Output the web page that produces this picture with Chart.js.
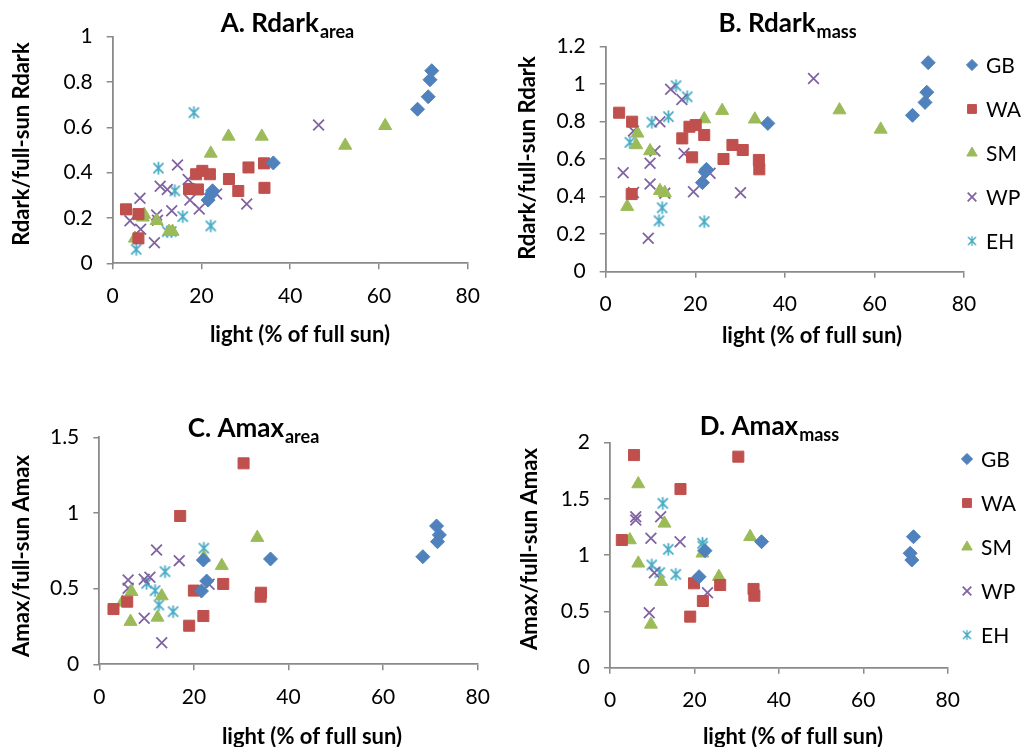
<!DOCTYPE html>
<html>
<head>
<meta charset="utf-8">
<script src="https://cdn.jsdelivr.net/npm/chart.js@4.4.1/dist/chart.umd.min.js"></script>
<style>
  html, body { margin: 0; padding: 0; background: #fff; }
  #wrap { position: relative; width: 1022px; height: 747px; overflow: hidden; }
  #wrap canvas { position: absolute; left: 0; top: 0; }
</style>
</head>
<body>
<div id="wrap">
  <canvas id="cA" width="1022" height="747"></canvas>
  <canvas id="cB" width="1022" height="747"></canvas>
  <canvas id="cC" width="1022" height="747"></canvas>
  <canvas id="cD" width="1022" height="747"></canvas>
</div>
<script>
// ---- sites and axis tick labels ----
const sites = ['GB', 'WA', 'SM', 'WP', 'EH'];

const lightTicks = [0, 20, 40, 60, 80];
const rdarkAreaTicks = [0, 0.2, 0.4, 0.6, 0.8, 1];
const rdarkMassTicks = [0, 0.2, 0.4, 0.6, 0.8, 1, 1.2];
const amaxAreaTicks = [0, 0.5, 1, 1.5];
const amaxMassTicks = [0, 0.5, 1, 1.5, 2];

// ---- A. Rdark (area basis): [light %, ratio to full-sun] ----
const rdarkAreaGB = [[71.9,0.85],[71.5,0.81],[71.1,0.735],[68.7,0.68],[36.2,0.443],[22.5,0.32],[22.2,0.305],[21.5,0.279]];
const rdarkAreaWA = [[3.0,0.238],[5.8,0.217],[5.8,0.11],[17.2,0.328],[19.2,0.326],[18.8,0.393],[20.2,0.408],[21.9,0.393],[26.2,0.372],[28.3,0.319],[30.6,0.423],[34.1,0.441],[34.2,0.333]];
const rdarkAreaSM = [[5.0,0.11],[6.8,0.203],[7.1,0.215],[9.9,0.188],[12.7,0.14],[13.5,0.14],[22.1,0.485],[26.1,0.56],[33.6,0.56],[52.4,0.52],[61.4,0.607]];
const rdarkAreaWP = [[6.15,0.287],[3.9,0.188],[6.3,0.15],[9.9,0.213],[10.1,0.19],[9.4,0.091],[10.7,0.34],[12.3,0.326],[13.3,0.232],[14.6,0.434],[17.0,0.37],[17.4,0.279],[19.5,0.24],[23.4,0.306],[30.2,0.262],[46.4,0.61]];
const rdarkAreaEH = [[5.3,0.062],[10.3,0.42],[12.3,0.14],[13.2,0.14],[14.0,0.32],[15.8,0.206],[18.3,0.665],[22.1,0.165]];

// ---- B. Rdark (mass basis) ----
const rdarkMassGB = [[72.0,1.115],[71.7,0.957],[71.3,0.903],[68.5,0.834],[36.2,0.791],[22.5,0.546],[22.2,0.533],[21.6,0.475]];
const rdarkMassWA = [[3.0,0.848],[5.9,0.80],[5.8,0.414],[17.1,0.711],[18.7,0.773],[20.1,0.782],[19.3,0.61],[22.0,0.729],[26.3,0.601],[28.3,0.676],[30.6,0.649],[34.2,0.596],[34.3,0.546]];
const rdarkMassSM = [[4.8,0.347],[7.1,0.738],[6.8,0.676],[9.9,0.644],[12.1,0.432],[13.2,0.421],[22.0,0.814],[26.0,0.859],[33.3,0.813],[52.2,0.862],[61.4,0.759]];
const rdarkMassWP = [[14.5,0.973],[17.0,0.919],[6.2,0.75],[12.1,0.80],[11.0,0.644],[9.9,0.578],[3.9,0.528],[9.9,0.468],[6.2,0.423],[13.2,0.418],[9.5,0.178],[17.5,0.631],[19.6,0.427],[23.3,0.525],[30.1,0.421],[46.4,1.031]];
const rdarkMassEH = [[15.7,0.992],[18.2,0.933],[10.3,0.797],[14.0,0.827],[5.4,0.69],[12.6,0.341],[11.9,0.272],[22.0,0.267]];

// ---- C. Amax (area basis) ----
const amaxAreaGB = [[68.4,0.711],[71.3,0.914],[71.9,0.855],[71.5,0.81],[36.2,0.696],[22.0,0.689],[22.7,0.55],[21.6,0.484]];
const amaxAreaWA = [[3.0,0.365],[5.9,0.414],[17.1,0.98],[19.0,0.255],[20.0,0.487],[22.0,0.319],[26.2,0.531],[30.5,1.328],[34.2,0.473],[34.1,0.447]];
const amaxAreaSM = [[4.9,0.41],[6.8,0.48],[6.6,0.282],[12.3,0.31],[13.2,0.451],[22.1,0.705],[25.9,0.652],[33.4,0.837]];
const amaxAreaWP = [[12.1,0.755],[16.9,0.685],[6.1,0.557],[6.1,0.502],[9.5,0.562],[10.7,0.575],[9.5,0.304],[13.2,0.143],[23.2,0.529]];
const amaxAreaEH = [[22.1,0.767],[13.9,0.612],[10.0,0.535],[11.8,0.487],[12.6,0.392],[15.6,0.348]];

// ---- D. Amax (mass basis) ----
const amaxMassGB = [[71.9,1.164],[71.1,1.017],[71.5,0.957],[35.9,1.12],[22.5,1.04],[21.1,0.809]];
const amaxMassWA = [[5.7,1.89],[30.4,1.876],[16.7,1.588],[2.8,1.135],[19.9,0.75],[26.1,0.735],[22.0,0.593],[19.0,0.454],[34.0,0.70],[34.2,0.64]];
const amaxMassSM = [[6.7,1.633],[4.7,1.135],[12.9,1.283],[6.7,0.928],[12.1,0.765],[9.7,0.385],[21.9,1.017],[25.8,0.809],[33.2,1.164]];
const amaxMassWP = [[6.1,1.342],[6.1,1.313],[12.0,1.342],[9.7,1.15],[16.6,1.12],[10.5,0.845],[9.3,0.489],[23.1,0.667]];
const amaxMassEH = [[12.5,1.461],[21.9,1.106],[22.0,1.08],[13.8,1.052],[9.9,0.913],[11.8,0.845],[15.6,0.83]];

// ---- styling ----
const PAGE_W = 1022, PAGE_H = 747;
const FONT = 'Lato, "Open Sans", sans-serif';
const AXIS_GRAY = '#8a8a8a';
const siteColors = ['#4F81BD', '#C0504D', '#9BBB59', '#8064A2', '#4BACC6'];

// asterisk marker: an X with a vertical stroke
function asteriskMarker(color, size) {
  const c = document.createElement('canvas');
  c.width = size; c.height = size;
  const g = c.getContext('2d');
  const m = size / 2, r = size / 2 - 1.2;
  const d = r * 0.8;
  g.strokeStyle = color; g.lineWidth = 1.8; g.lineCap = 'butt';
  g.beginPath();
  g.moveTo(m, m - r); g.lineTo(m, m + r);
  g.moveTo(m - d, m - d); g.lineTo(m + d, m + d);
  g.moveTo(m - d, m + d); g.lineTo(m + d, m - d);
  g.stroke();
  return c;
}

function markerStyle(i) {
  const col = siteColors[i];
  switch (i) {
    case 0: return { pointStyle: 'rectRot', pointRadius: 7, backgroundColor: col, borderColor: col, borderWidth: 1 };
    case 1: return { pointStyle: 'rect', pointRadius: 7.8, backgroundColor: col, borderColor: col, borderWidth: 1 };
    case 2: return { pointStyle: 'triangle', pointRadius: 7.5, backgroundColor: col, borderColor: col, borderWidth: 1 };
    case 3: return { pointStyle: 'crossRot', pointRadius: 7.6, backgroundColor: col, borderColor: col, borderWidth: 1.8 };
    default: return { pointStyle: asteriskMarker(col, 15), pointRadius: 7.5, backgroundColor: col, borderColor: col, borderWidth: 1 };
  }
}

// titles with subscripts, axis titles and the site legend
const panelText = {
  id: 'panelText',
  afterDraw(chart, args, o) {
    const ctx = chart.ctx;
    ctx.save();
    ctx.fillStyle = '#000';
    // panel title: bold text followed by a subscript
    const mainFont = 'bold ' + o.titleSize + 'px ' + FONT;
    const subFont = 'bold ' + o.subSize + 'px ' + FONT;
    ctx.font = mainFont; const w1 = ctx.measureText(o.title).width;
    ctx.font = subFont; const w2 = ctx.measureText(o.sub).width;
    const x0 = o.titleX - (w1 + w2) / 2;
    ctx.textAlign = 'left'; ctx.textBaseline = 'alphabetic';
    ctx.font = mainFont; ctx.fillText(o.title, x0, o.titleY);
    ctx.font = subFont; ctx.fillText(o.sub, x0 + w1 + 1, o.titleY + o.subDrop);

    // axis titles
    ctx.font = 'bold ' + o.axisSize + 'px ' + FONT;
    ctx.textAlign = 'center'; ctx.textBaseline = 'middle';
    ctx.fillText(o.xTitle, o.xTitleX, o.xTitleY);
    ctx.save();
    ctx.translate(o.yTitleX, o.yTitleY);
    ctx.rotate(-Math.PI / 2);
    ctx.fillText(o.yTitle, 0, 0);
    ctx.restore();

    // legend
    if (o.legend) {
      ctx.font = o.legendSize + 'px ' + FONT;
      ctx.textAlign = 'left'; ctx.textBaseline = 'middle';
      chart.data.datasets.forEach((ds, i) => {
        const y = o.legendY + i * o.legendStep;
        const x = o.legendX;
        ctx.save();
        ctx.fillStyle = ds.backgroundColor;
        ctx.strokeStyle = ds.borderColor;
        ctx.lineWidth = ds.borderWidth;
        const ps = ds.pointStyle;
        if (ps instanceof HTMLCanvasElement) {
          const s = ps.width * 0.8;
          ctx.drawImage(ps, x - s / 2, y - s / 2, s, s);
        } else {
          Chart.helpers.drawPoint(ctx, { pointStyle: ps, radius: ds.pointRadius * 0.8, rotation: 0, borderWidth: ds.borderWidth }, x, y);
        }
        ctx.restore();
        ctx.fillStyle = '#000';
        ctx.fillText(ds.label, x + o.legendGap, y + 1);
      });
    }
    ctx.restore();
  }
};

function buildPanel(canvasId, p) {
  const datasets = p.series.map((pts, i) => Object.assign({
    label: sites[i],
    data: pts.map(([x, y]) => ({ x, y })),
    showLine: false
  }, markerStyle(i)));

  const axisCommon = {
    type: 'linear',
    grid: { display: true, drawOnChartArea: false, drawTicks: true, tickLength: 6, color: AXIS_GRAY, lineWidth: 1.5 },
    border: { display: true, color: AXIS_GRAY, width: 1.8 },
    ticks: { padding: 14, color: '#000', font: { family: FONT, size: 21 }, autoSkip: false, maxRotation: 0, callback: v => String(v) }
  };

  return new Chart(document.getElementById(canvasId), {
    type: 'scatter',
    data: { datasets },
    options: {
      responsive: false,
      animation: false,
      events: [],
      layout: { padding: { left: 0, top: p.area.t, right: PAGE_W - p.area.r, bottom: 0 } },
      plugins: {
        legend: { display: false },
        tooltip: { enabled: false },
        panelText: p.text
      },
      scales: {
        x: Object.assign({}, axisCommon, {
          position: 'bottom', min: 0, max: 80,
          afterBuildTicks: s => { s.ticks = lightTicks.map(v => ({ value: v })); },
          afterFit: s => { s.height = PAGE_H - p.area.b; }
        }),
        y: Object.assign({}, axisCommon, {
          position: 'left', min: 0, max: p.yMax,
          afterBuildTicks: s => { s.ticks = p.yTicks.map(v => ({ value: v })); },
          afterFit: s => { s.width = p.area.l; }
        })
      }
    },
    plugins: [panelText]
  });
}

const textBase = { titleSize: 26, subSize: 18, subDrop: 6, axisSize: 22, legendSize: 21, legendGap: 14 };

buildPanel('cA', {
  area: { l: 112.7, t: 36.7, r: 467.7, b: 263.3 },
  yMax: 1, yTicks: rdarkAreaTicks,
  series: [rdarkAreaGB, rdarkAreaWA, rdarkAreaSM, rdarkAreaWP, rdarkAreaEH],
  text: Object.assign({}, textBase, {
    title: 'A. Rdark', sub: 'area', titleX: 287, titleY: 32,
    xTitle: 'light (% of full sun)', xTitleX: 300, xTitleY: 335,
    yTitle: 'Rdark/full-sun Rdark', yTitleX: 22, yTitleY: 144,
    legend: false
  })
});

buildPanel('cB', {
  area: { l: 605.7, t: 46.7, r: 964, b: 271.7 },
  yMax: 1.2, yTicks: rdarkMassTicks,
  series: [rdarkMassGB, rdarkMassWA, rdarkMassSM, rdarkMassWP, rdarkMassEH],
  text: Object.assign({}, textBase, {
    title: 'B. Rdark', sub: 'mass', titleX: 787, titleY: 32,
    xTitle: 'light (% of full sun)', xTitleX: 812, xTitleY: 336,
    yTitle: 'Rdark/full-sun Rdark', yTitleX: 528, yTitleY: 158,
    legend: true, legendX: 972, legendY: 65, legendStep: 44
  })
});

buildPanel('cC', {
  area: { l: 99.3, t: 437.3, r: 477.7, b: 664.3 },
  yMax: 1.5, yTicks: amaxAreaTicks,
  series: [amaxAreaGB, amaxAreaWA, amaxAreaSM, amaxAreaWP, amaxAreaEH],
  text: Object.assign({}, textBase, {
    title: 'C. Amax', sub: 'area', titleX: 253, titleY: 437,
    xTitle: 'light (% of full sun)', xTitleX: 312, xTitleY: 737,
    yTitle: 'Amax/full-sun Amax', yTitleX: 22, yTitleY: 556,
    legend: false
  })
});

buildPanel('cD', {
  area: { l: 610, t: 442.7, r: 947.7, b: 667.7 },
  yMax: 2, yTicks: amaxMassTicks,
  series: [amaxMassGB, amaxMassWA, amaxMassSM, amaxMassWP, amaxMassEH],
  text: Object.assign({}, textBase, {
    title: 'D. Amax', sub: 'mass', titleX: 769, titleY: 435,
    xTitle: 'light (% of full sun)', xTitleX: 793, xTitleY: 737,
    yTitle: 'Amax/full-sun Amax', yTitleX: 530, yTitleY: 549,
    legend: true, legendX: 967, legendY: 459, legendStep: 44
  })
});
</script>
</body>
</html>
